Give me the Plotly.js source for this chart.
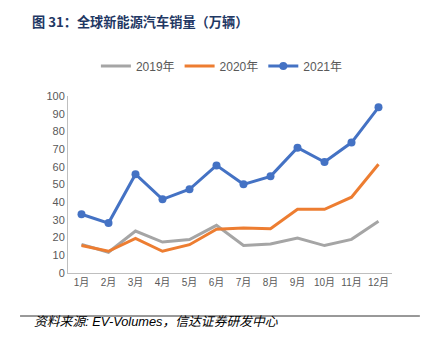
<!DOCTYPE html>
<html>
<head>
<meta charset="utf-8">
<script src="https://cdn.plot.ly/plotly-3.0.1.min.js"></script>
<style>html,body{margin:0;padding:0;background:#fff;}#chart{width:430px;height:349px;}</style>
</head>
<body>
<div id="chart"></div>
<script>
const months = ["1月","2月","3月","4月","5月","6月","7月","8月","9月","10月","11月","12月"];
const seriesNames = ["2019年","2020年","2021年"];
const sales2019 = [16.2, 11.7, 23.7, 17.5, 18.9, 26.9, 15.5, 16.4, 19.8, 15.5, 19.0, 29.2];
const sales2020 = [15.5, 12.3, 19.6, 12.3, 16.0, 24.7, 25.4, 25.0, 36.0, 36.0, 42.8, 61.4];
const sales2021 = [33.2, 28.2, 55.8, 41.6, 47.3, 60.8, 50.1, 54.6, 70.8, 62.7, 73.7, 93.6];
const titleText = "图 31：全球新能源汽车销量（万辆）";
const sourceText = "资料来源: EV-Volumes，信达证券研发中心";

const fontFam = "Liberation Sans, Arial, Noto Sans CJK SC, sans-serif";
const traces = [
  {x: months, y: sales2019, name: seriesNames[0], type: "scatter", mode: "lines",
   line: {color: "#A5A5A5", width: 3}},
  {x: months, y: sales2020, name: seriesNames[1], type: "scatter", mode: "lines",
   line: {color: "#ED7D31", width: 3}},
  {x: months, y: sales2021, name: seriesNames[2], type: "scatter", mode: "lines+markers",
   line: {color: "#4472C4", width: 3}, marker: {color: "#4472C4", size: 8}}
];
const layout = {
  width: 430, height: 349,
  margin: {l: 68, r: 38, t: 96, b: 76},
  paper_bgcolor: "#fff", plot_bgcolor: "#fff",
  font: {family: fontFam, color: "#595959", size: 11},
  showlegend: true,
  legend: {orientation: "h", x: 0.475, xanchor: "center", y: 1.17, yanchor: "middle",
           font: {size: 12, color: "#595959"}, itemwidth: 30, tracegroupgap: 0},
  xaxis: {type: "category", range: [-0.5, 11.5], showline: true, linecolor: "#BFBFBF", linewidth: 1,
          showgrid: false, zeroline: false, ticks: "", tickfont: {size: 10, color: "#595959"}},
  yaxis: {range: [0, 100], dtick: 10, showline: true, linecolor: "#BFBFBF", linewidth: 1,
          showgrid: false, zeroline: false, ticks: "", tickfont: {size: 11, color: "#595959"}},
  annotations: [
    {text: "<b>" + titleText + "</b>", xref: "paper", yref: "paper", x: -0.117, y: 1.42,
     xanchor: "left", yanchor: "middle", showarrow: false,
     font: {family: "Noto Sans CJK SC, sans-serif", size: 13.2, color: "#1F3864"}},
    {text: "<i>" + sourceText + "</i>", xref: "paper", yref: "paper", x: -0.111, y: -0.272,
     xanchor: "left", yanchor: "middle", showarrow: false,
     font: {family: "Liberation Sans, Noto Sans CJK SC, sans-serif", size: 12.8, color: "#000"}}
  ],
  shapes: [
    {type: "line", xref: "paper", yref: "paper", x0: -0.148, x1: 1.086, y0: -0.243, y1: -0.243,
     line: {color: "#333", width: 1}}
  ]
};
Plotly.newPlot("chart", traces, layout, {displayModeBar: false, staticPlot: true});
</script>
</body>
</html>
